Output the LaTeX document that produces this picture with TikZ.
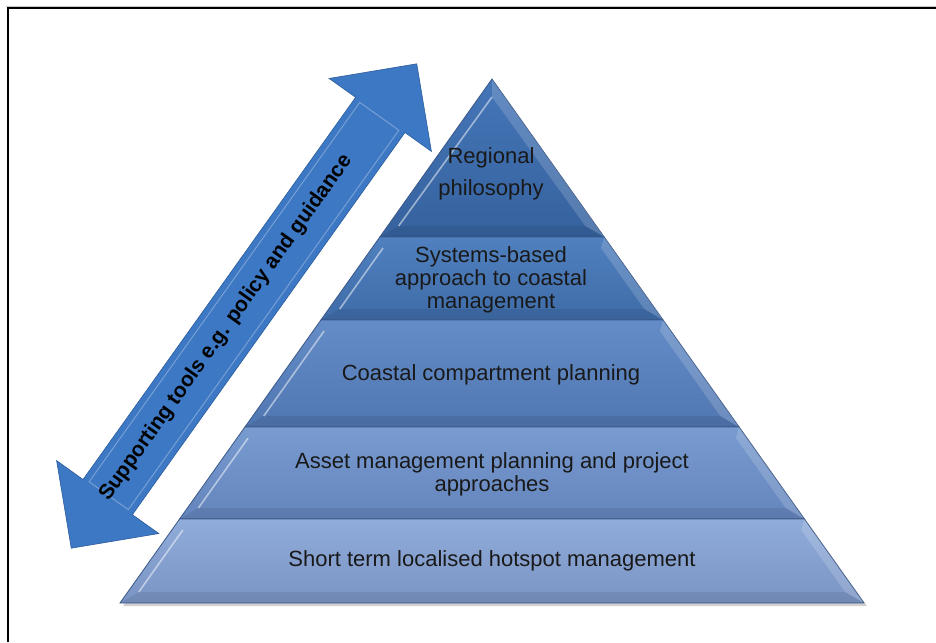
\documentclass[tikz,border=0pt]{standalone}
\usepackage{fontspec}
\setmainfont{Liberation Sans}
\usetikzlibrary{shapes.arrows}

\definecolor{layeredge}{RGB}{58,88,136}
\definecolor{labeltext}{RGB}{25,25,25}
\definecolor{topone}{RGB}{69,118,184}
\definecolor{botone}{RGB}{54,98,158}
\definecolor{toptwo}{RGB}{80,128,191}
\definecolor{bottwo}{RGB}{63,108,168}
\definecolor{topthree}{RGB}{100,140,199}
\definecolor{botthree}{RGB}{80,119,178}
\definecolor{topfour}{RGB}{120,155,208}
\definecolor{botfour}{RGB}{100,133,188}
\definecolor{topfive}{RGB}{144,172,218}
\definecolor{botfive}{RGB}{122,148,196}
\definecolor{arrowblue}{RGB}{60,120,195}
\definecolor{arrowedge}{RGB}{44,92,156}

\begin{document}
\begin{tikzpicture}[x=1pt,y=-1pt,
  layer/.style={draw=layeredge,line width=0.8pt},
  bevel/.style={white,opacity=0.5,line width=1.6pt},
  lightband/.style={fill=white,opacity=0.16},
  darkband/.style={fill=black,opacity=0.08},
  label node/.style={text=labeltext,align=center,font=\fontsize{22}{23}\selectfont},
  tools arrow/.style={double arrow,double arrow tip angle=90,double arrow head extend=32.5pt,
    minimum height=595pt,inner xsep=0pt,inner ysep=30pt,
    fill=arrowblue,draw=arrowedge,line width=0.6pt},
  tools bevel/.style={rectangle,minimum width=466pt,minimum height=48pt,inner sep=0pt,
    draw=white,draw opacity=0.3,line width=1pt}]

  \useasboundingbox (0,0) rectangle (936,642);
  \draw[gray!45,line width=1pt] (936,6.5) -- (5.5,6.5);
  \draw[line width=2pt] (7.5,642) -- (7.5,8.5) -- (936,8.5);

  % pyramid shadow
  \fill[black,opacity=0.18] (494,82) -- (867,606) -- (123,606) -- cycle;

  \draw[layer,top color=topone,bottom color=botone] (492,79) -- (604.2,237) -- (379.8,237) -- cycle;
  \fill[lightband] (492,79) -- (604.2,237) -- (585.4,226) -- (492,97) -- cycle;
  \fill[darkband] (379.8,237) -- (604.2,237) -- (585.4,226) -- (398.6,226) -- cycle;
  \draw[bevel] (492,97) -- (398.6,226);

  \draw[layer,top color=toptwo,bottom color=bottwo] (379.8,237) -- (604.2,237) -- (663.1,320) -- (320.9,320) -- cycle;
  \fill[lightband] (604.2,237) -- (663.1,320) -- (644.3,309) -- (601.0,248) -- cycle;
  \fill[darkband] (320.9,320) -- (663.1,320) -- (644.3,309) -- (339.7,309) -- cycle;
  \draw[bevel] (383.0,248) -- (339.7,309);

  \draw[layer,top color=topthree,bottom color=botthree] (320.9,320) -- (663.1,320) -- (739.1,427) -- (244.9,427) -- cycle;
  \fill[lightband] (663.1,320) -- (739.1,427) -- (720.2,416) -- (659.9,331) -- cycle;
  \fill[darkband] (244.9,427) -- (739.1,427) -- (720.2,416) -- (263.8,416) -- cycle;
  \draw[bevel] (324.1,331) -- (263.8,416);

  \draw[layer,top color=topfour,bottom color=botfour] (244.9,427) -- (739.1,427) -- (804.4,519) -- (179.6,519) -- cycle;
  \fill[lightband] (739.1,427) -- (804.4,519) -- (785.6,508) -- (735.9,438) -- cycle;
  \fill[darkband] (179.6,519) -- (804.4,519) -- (785.6,508) -- (198.4,508) -- cycle;
  \draw[bevel] (248.1,438) -- (198.4,508);

  \draw[layer,top color=topfive,bottom color=botfive] (179.6,519) -- (804.4,519) -- (864,603) -- (120,603) -- cycle;
  \fill[lightband] (804.4,519) -- (864,603) -- (845.2,592) -- (801.2,530) -- cycle;
  \fill[darkband] (120,603) -- (864,603) -- (845.2,592) -- (138.8,592) -- cycle;
  \draw[bevel] (182.8,530) -- (138.8,592);

  \node[label node] (regional) at (491,174) {Regional\\[9pt]philosophy};
  \node[label node] (systems)  at (491,280) {Systems-based\\approach to coastal\\management};
  \node[label node] (coastal)  at (491,375) {Coastal compartment planning};
  \node[label node] (asset)    at (492,474) {Asset management planning and project\\approaches};
  \node[label node] (short)    at (492,561) {Short term localised hotspot management};

  \node[tools arrow,rotate=54.5] (tools) at (244,306) {};
  \node[tools bevel,rotate=54.5] (toolsbevel) at (tools.center) {};
  \node[rotate=54.5,text=black,font=\bfseries\fontsize{21}{24}\selectfont] (toolslabel) at (226,328)
    {Supporting tools e.g. policy and guidance};

\end{tikzpicture}
\end{document}
